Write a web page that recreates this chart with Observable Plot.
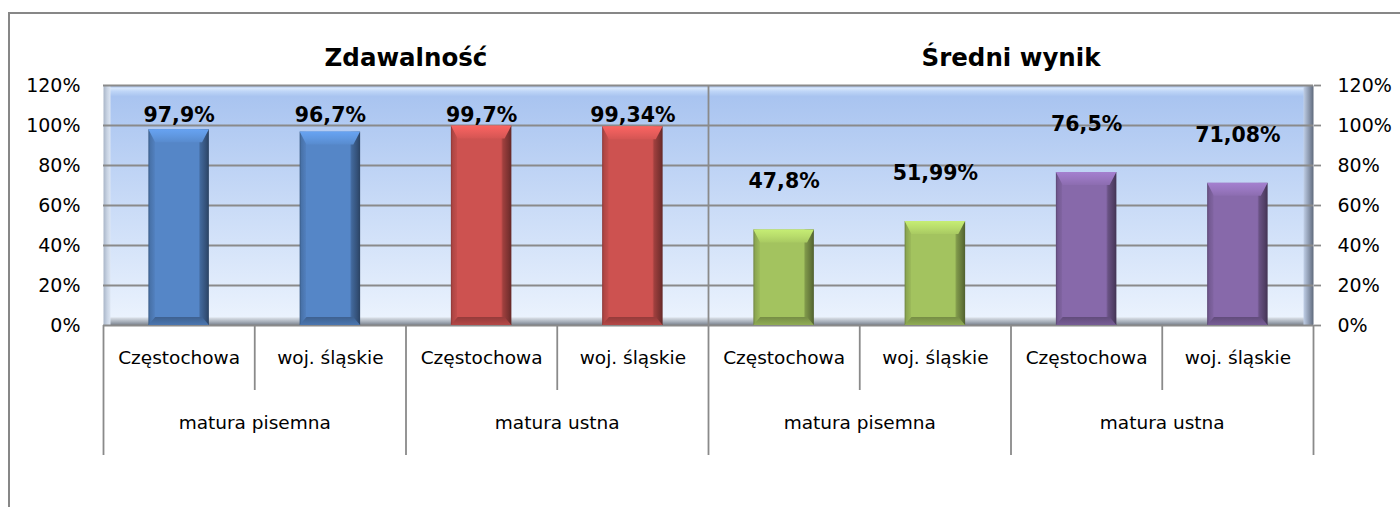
<!DOCTYPE html>
<html><head><meta charset="utf-8">
<script src="https://cdn.jsdelivr.net/npm/d3@7"></script>
<script src="https://cdn.jsdelivr.net/npm/@observablehq/plot@0.6"></script>
<style>
html,body{margin:0;padding:0;background:#fff;}
#wrap{position:relative;width:1400px;height:507px;overflow:hidden;}
#border{position:absolute;left:8px;top:12px;width:1500px;height:600px;border-left:2px solid #878787;border-top:2px solid #878787;}
#chart{position:absolute;left:0;top:0;}
</style></head><body>
<div id="wrap"><div id="border"></div><div id="chart"></div></div>
<script>
// ---- data ----
const panels = ["Zdawalność", "Średni wynik"];
const groups = ["matura pisemna", "matura ustna", "matura pisemna", "matura ustna"];
const places = ["Częstochowa", "woj. śląskie", "Częstochowa", "woj. śląskie",
                "Częstochowa", "woj. śląskie", "Częstochowa", "woj. śląskie"];
const values = [97.9, 96.7, 99.7, 99.34, 47.8, 51.99, 76.5, 71.08];
const yTicks = [0, 20, 40, 60, 80, 100, 120];
// ---- styles ----
const palette = ["#5586c7", "#cd5250", "#a3c35f", "#8769aa"];

const rows = values.map((v, i) => ({i, value: v, place: places[i], g: Math.floor(i / 2)}));
const groupRows = groups.map((name, k) => ({k, name}));
const fmt = v => String(v).replace(".", ",") + "%";
const grid = "#8a8a8a";
const half = 0.2, bev = 0.045, capH = 6.5, footH = 4;

// bevel trapezoids derived from each bar
const capPts = rows.flatMap(r => {
  const a = r.i + 0.5 - half, b = r.i + 0.5 + half, v = r.value;
  return [[a, v], [a + bev, v - capH], [b - bev, v - capH], [b, v]].map(([x, y]) => ({bar: r.i, g: r.g, x, y1: y, y2: v}));
});
const footPts = rows.flatMap(r => {
  const a = r.i + 0.5 - half, b = r.i + 0.5 + half;
  return [[a, 0], [a + bev, footH], [b - bev, footH], [b, 0]].map(([x, y]) => ({bar: r.i, g: r.g, x, y1: 0, y2: y}));
});

const plot = Plot.plot({
  width: 1400, height: 507,
  marginLeft: 103, marginRight: 87, marginTop: 85, marginBottom: 182,
  style: {background: "transparent", fontFamily: "'DejaVu Sans', Verdana, sans-serif", color: "#000"},
  x: {type: "linear", domain: [0, 8], axis: null},
  y: {domain: [0, 120], axis: null},
  color: {type: "identity"},
  marks: [
    Plot.frame({fill: "url(#edgeH)"}),
    Plot.frame({fill: "url(#wallV)", insetLeft: 7, insetRight: 10}),
    Plot.ruleY(yTicks, {stroke: grid, strokeWidth: 1.8}),
    Plot.ruleX([4], {stroke: grid, strokeWidth: 1.8}),
    Plot.axisY(yTicks, {anchor: "left", tickSize: 0, tickPadding: 23, tickFormat: d => d + "%", fontSize: 19, label: null}),
    Plot.axisY(yTicks, {anchor: "right", tickSize: 7, tickPadding: 17, tickFormat: d => d + "%", fontSize: 19, stroke: grid, strokeWidth: 1.8, label: null}),
    Plot.axisX([0, 2, 4, 6, 8], {anchor: "bottom", tickSize: 130, tickFormat: () => "", stroke: grid, strokeWidth: 1.8, label: null}),
    Plot.axisX([1, 3, 5, 7], {anchor: "bottom", tickSize: 65, tickFormat: () => "", stroke: grid, strokeWidth: 1.8, label: null}),
    Plot.rectY(rows, {x1: d => d.i + 0.5 - half, x2: d => d.i + 0.5 + half, y1: () => 0, y2: "value", fill: d => `url(#barH${d.g})`}),
    Plot.areaY(capPts, {x: "x", y1: "y1", y2: "y2", z: "bar", fill: d => `url(#cap${d.g})`, curve: "linear"}),
    Plot.areaY(footPts, {x: "x", y1: "y1", y2: "y2", z: "bar", fill: d => `url(#foot${d.g})`, curve: "linear"}),
    Plot.text(rows, {x: d => d.i + 0.5, y: d => Math.min(d.value + 24, 105), text: d => fmt(d.value), fontWeight: "bold", fontSize: 20.5}),
    Plot.text(rows, {x: d => d.i + 0.5, text: "place", frameAnchor: "bottom", dy: 38, fontSize: 18.5}),
    Plot.text(groupRows, {x: d => 2 * d.k + 1, text: "name", frameAnchor: "bottom", dy: 103, fontSize: 18.5}),
    Plot.text(panels, {x: (d, i) => 2 + 4 * i, text: d => d, frameAnchor: "top", dy: -37, fontSize: 24.5, fontWeight: "bold"})
  ]
});

// gradient definitions for the 3D look
const svg = d3.select(plot);
const defs = svg.insert("defs", ":first-child");
function lin(id, horiz, stops) {
  const g = defs.append("linearGradient").attr("id", id)
    .attr("x1", 0).attr("y1", 0).attr("x2", horiz ? 1 : 0).attr("y2", horiz ? 0 : 1);
  stops.forEach(([o, c, a]) => g.append("stop").attr("offset", o).attr("stop-color", c).attr("stop-opacity", a ?? 1));
}
palette.forEach((c, k) => {
  const d = t => d3.color(c).darker(t).formatHex();
  const b = t => d3.color(c).brighter(t).formatHex();
  lin("barH" + k, true, [
    [0, d(1.1)], [0.03, d(0.45)], [0.1, d(0.15)], [0.11, c],
    [0.83, c], [0.86, d(0.7)], [0.95, d(1.4)], [1, d(2.0)]
  ]);
  lin("cap" + k, false, [[0, b(0.55)], [0.5, b(0.35)], [1, b(0.1)]]);
  lin("foot" + k, false, [[0, d(0.9)], [1, d(0.35)]]);
});
lin("edgeH", true, [
  [0, "#aab6c8"], [0.003, "#c8d3e3"], [0.0058, "#dde6f3"], [0.5, "#dde6f3"],
  [0.9915, "#c3d2ea"], [0.996, "#8f9cb2"], [1, "#5f6a7c"]
]);
lin("wallV", false, [
  [0, "#9fb9e4"], [0.012, "#d6e6fc"], [0.025, "#bed5f7"], [0.045, "#a9c4f0"],
  [0.046, "#a9c4f0"], [0.5, "#c9dbf7"], [0.965, "#eaf2fd"],
  [0.968, "#d8dee6"], [0.985, "#a5adb8"], [1, "#737b86"]
]);

document.getElementById("chart").appendChild(plot);
</script>
</body></html>
